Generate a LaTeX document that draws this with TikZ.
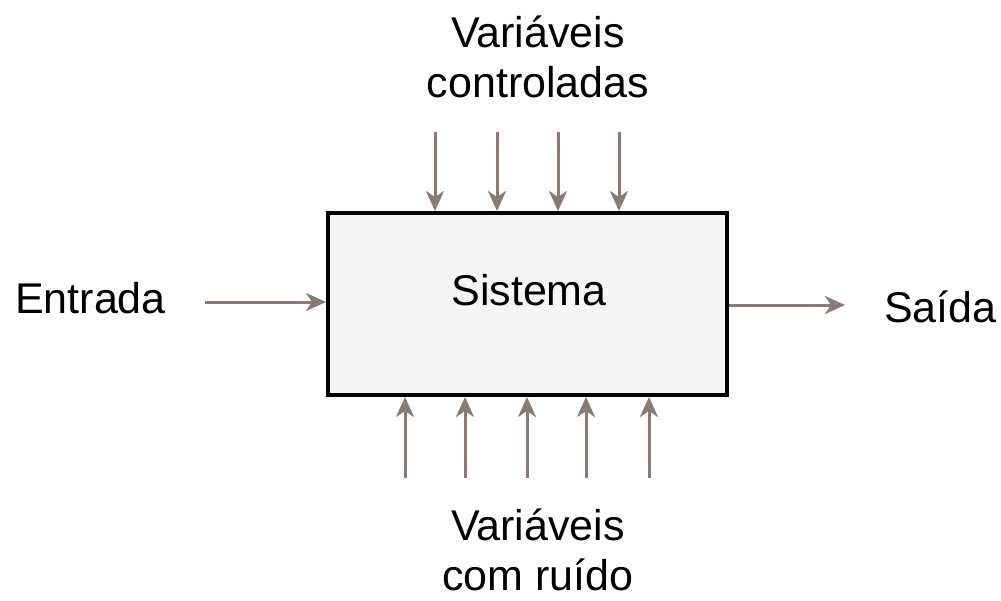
\documentclass[tikz,border=0pt]{standalone}
\usepackage{fontspec}
\setmainfont{Liberation Sans}
\usetikzlibrary{arrows.meta}
\definecolor{arrowc}{HTML}{8A7A74}
\tikzset{
  sig/.style={draw=arrowc, line width=3pt, -{Stealth[length=20pt,width=18pt,inset=6pt]}},
  lbl/.style={font=\fontsize{43}{50}\selectfont, align=center, inner sep=0pt},
  sysbox/.style={draw=black, line width=4pt, fill=gray!8, minimum width=399pt, minimum height=182pt, inner sep=0pt}
}
\begin{document}
\begin{tikzpicture}[x=1pt,y=-1pt]
\useasboundingbox (0,0) rectangle (1001,600);
\node[sysbox] (sys) at (527.5,304) {};
\node[lbl, anchor=base] (sistema) at (529,305) {Sistema};
\node[lbl, anchor=base] (top) at (538,97) {Variáveis\\controladas};
\node[lbl, anchor=base] (bot) at (538,590) {Variáveis\\com ruído};
\node[lbl, anchor=base west] (entrada) at (15,313) {Entrada};
\node[lbl, anchor=base west] (saida) at (884,322) {Saída};
% input
\coordinate (inA) at (205,302);
\draw[sig] (inA) -- (inA -| sys.west);
% output
\draw[sig] (sys.east |- 0,305) -- (845,305);
% top arrows
\foreach \x [count=\i] in {435,497,558,619}{
  \coordinate (t\i) at (\x,132);
  \draw[sig] (t\i) -- (t\i |- sys.north);
}
% bottom arrows
\foreach \x [count=\i] in {405,465,527,586,649}{
  \coordinate (b\i) at (\x,478);
  \draw[sig] (b\i) -- (b\i |- sys.south);
}
\end{tikzpicture}
\end{document}
